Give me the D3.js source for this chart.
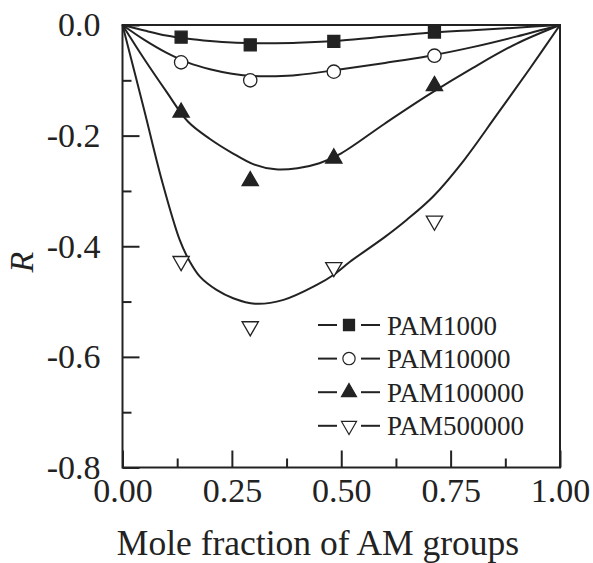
<!DOCTYPE html>
<meta charset="utf-8">
<style>
  body { margin: 0; background: #fff; }
  text { font-family: "Liberation Serif", "Times New Roman", serif; fill: #222; }
</style>
<script src="https://d3js.org/d3.v7.min.js"></script>
<div id="chart"></div>
<script>
// measured points (mole fraction of AM groups vs R)
var fractions = [0.134, 0.292, 0.483, 0.713];
var pam1000   = [-0.022, -0.036, -0.0295, -0.0127];
var pam10000  = [-0.0675, -0.100, -0.0844, -0.0555];
var pam100000 = [-0.158, -0.282, -0.241, -0.110];
var pam500000 = [-0.427, -0.545, -0.438, -0.354];

// fitted curves
var fit1000 = [[0,0],[0.05,-0.010],[0.1,-0.019],[0.15,-0.025],[0.2,-0.029],[0.25,-0.0318],[0.3,-0.0328],
  [0.35,-0.0328],[0.4,-0.032],[0.5,-0.028],[0.6,-0.021],[0.7,-0.014],[0.8,-0.0095],[0.9,-0.0048],[1,0]];
var fit10000 = [[0,0],[0.05,-0.027],[0.1,-0.050],[0.15,-0.068],[0.2,-0.080],[0.25,-0.088],[0.3,-0.0922],
  [0.35,-0.0925],[0.4,-0.0905],[0.5,-0.080],[0.6,-0.0685],[0.7,-0.056],[0.8,-0.040],[0.9,-0.021],[1,0]];
var fit100000 = [[0,0],[0.05,-0.062],[0.1,-0.12],[0.15,-0.175],[0.2,-0.206],[0.25,-0.231],[0.3,-0.252],
  [0.35,-0.261],[0.4,-0.259],[0.45,-0.250],[0.5,-0.232],[0.6,-0.178],[0.7,-0.126],[0.8,-0.078],[0.9,-0.034],[1,0]];
var fit500000 = [[0,0],[0.05,-0.155],[0.0896,-0.28],[0.131,-0.389],[0.154,-0.428],[0.177,-0.455],[0.215,-0.479],
  [0.253,-0.494],[0.303,-0.504],[0.368,-0.497],[0.444,-0.47],[0.482,-0.452],[0.52,-0.428],[0.6,-0.383],
  [0.65,-0.352],[0.71,-0.31],[0.78,-0.245],[0.855,-0.163],[0.93,-0.08],[1,0]];

var names = ["PAM1000", "PAM10000", "PAM100000", "PAM500000"];
var xTicks = [0, 0.25, 0.5, 0.75, 1];
var yTicks = [0, -0.2, -0.4, -0.6, -0.8];

var series = [
  {name: names[0], vals: pam1000,   fit: fit1000,   sym: d3.symbolSquare,   size: 144, fill: "#222", rot: 0},
  {name: names[1], vals: pam10000,  fit: fit10000,  sym: d3.symbolCircle,   size: 140, fill: "#fff", rot: 0},
  {name: names[2], vals: pam100000, fit: fit100000, sym: d3.symbolTriangle, size: 115, fill: "#222", rot: 0},
  {name: names[3], vals: pam500000, fit: fit500000, sym: d3.symbolTriangle, size: 115, fill: "#fff", rot: 180}
];

var width = 593, height = 563;
var margin = {top: 25, right: 33, bottom: 95.5, left: 122.5};
var w = width - margin.left - margin.right,
    h = height - margin.top - margin.bottom;

var svg = d3.select("#chart").append("svg")
    .attr("width", width)
    .attr("height", height);
var g = svg.append("g")
    .attr("transform", "translate(" + margin.left + "," + margin.top + ")");

var x = d3.scaleLinear().domain([0, 1]).range([0, w]);
var y = d3.scaleLinear().domain([-0.8, 0]).range([h, 0]);

// minor ticks first, then major with labels
g.append("g")
    .attr("transform", "translate(0," + h + ")")
    .call(d3.axisBottom(x).tickValues(d3.range(0.125, 1, 0.25)).tickSize(-9).tickFormat(""));
g.append("g")
    .attr("class", "xaxis")
    .attr("transform", "translate(0," + h + ")")
    .call(d3.axisBottom(x).tickValues(xTicks).tickSize(-17).tickPadding(10).tickFormat(d3.format(".2f")));
g.append("g")
    .call(d3.axisLeft(y).tickValues(d3.range(-0.7, 0, 0.2)).tickSize(-9).tickFormat(""));
g.append("g")
    .attr("class", "yaxis")
    .call(d3.axisLeft(y).tickValues(yTicks).tickSize(-17).tickPadding(22).tickFormat(d3.format(".1f")));

g.selectAll(".domain").remove();
g.selectAll(".tick line").attr("stroke", "#222").attr("stroke-width", 2);
g.selectAll(".tick text")
    .style("font-size", "34px")
    .attr("fill", "#222");
g.selectAll(".yaxis .tick text").text(function(d) { return d === 0 ? "0.0" : d3.format(".1f")(d).replace("\u2212", "-"); });

// frame
g.append("rect")
    .attr("width", w).attr("height", h)
    .attr("fill", "none")
    .attr("stroke", "#222")
    .attr("stroke-width", 2);

var line = d3.line()
    .x(function(d) { return x(d[0]); })
    .y(function(d) { return y(d[1]); })
    .curve(d3.curveCatmullRom.alpha(0.5));

series.forEach(function(s) {
  g.append("path")
      .datum(s.fit)
      .attr("d", line)
      .attr("fill", "none")
      .attr("stroke", "#222")
      .attr("stroke-width", 2);
});

series.forEach(function(s) {
  g.selectAll(null)
    .data(s.vals)
    .enter()
    .append("path")
      .attr("d", d3.symbol().type(s.sym).size(s.size))
      .attr("transform", function(d, i) {
        return "translate(" + x(fractions[i]) + "," + y(d) + ") rotate(" + s.rot + ")";
      })
      .attr("fill", s.fill)
      .attr("stroke", "#222")
      .attr("stroke-width", 1.3);
});

// legend: short line, marker, short line, then the name
var leg = svg.append("g").attr("transform", "translate(318,325)");
series.forEach(function(s, i) {
  var row = leg.append("g").attr("transform", "translate(0," + (i * 33.6) + ")");
  row.append("line").attr("x1", 0).attr("x2", 19).attr("stroke", "#222").attr("stroke-width", 2);
  row.append("line").attr("x1", 43).attr("x2", 62).attr("stroke", "#222").attr("stroke-width", 2);
  row.append("path")
      .attr("d", d3.symbol().type(s.sym).size(s.size * 0.85))
      .attr("transform", "translate(31,0) rotate(" + s.rot + ")")
      .attr("fill", s.fill)
      .attr("stroke", "#222")
      .attr("stroke-width", 1.2);
  row.append("text")
      .attr("x", 69).attr("y", 9.5)
      .style("font-size", "27px")
      .text(s.name);
});

// axis titles
svg.append("text")
    .attr("x", 318).attr("y", 555)
    .attr("text-anchor", "middle")
    .style("font-size", "35.5px")
    .text("Mole fraction of AM groups");

svg.append("text")
    .attr("transform", "translate(33,262) rotate(-90)")
    .attr("text-anchor", "middle")
    .style("font-size", "34px")
    .style("font-style", "italic")
    .text("R");
</script>
